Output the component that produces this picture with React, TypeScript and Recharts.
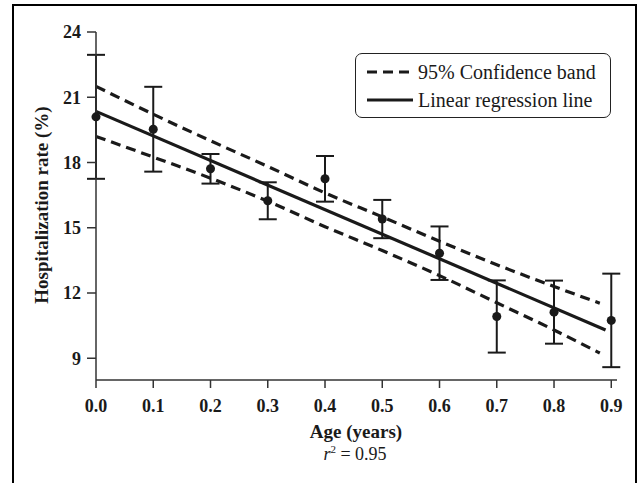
import React from 'react';
import { ComposedChart, Line, Scatter, ErrorBar, XAxis, YAxis } from 'recharts';

const ages = [0, 0.1, 0.2, 0.3, 0.4, 0.5, 0.6, 0.7, 0.8, 0.9];
const rates = [20.1, 19.53, 17.71, 16.24, 17.25, 15.4, 13.83, 10.92, 11.12, 10.74];
const sd = [2.85, 1.95, 0.68, 0.85, 1.05, 0.88, 1.23, 1.66, 1.45, 2.15];

const bandX = [0, 0.1, 0.2, 0.3, 0.4, 0.5, 0.6, 0.7, 0.8, 0.88];
const upperBand = [21.5, 20.22, 19.0, 17.82, 16.6, 15.5, 14.38, 13.3, 12.3, 11.53];
const lowerBand = [19.2, 18.25, 17.28, 16.22, 15.05, 13.95, 12.8, 11.55, 10.3, 9.24];

const regX = [0, 0.89];
const regY = [20.35, 10.3];

const xTicks = [0, 0.1, 0.2, 0.3, 0.4, 0.5, 0.6, 0.7, 0.8, 0.9];
const yTicks = [9, 12, 15, 18, 21, 24];

const points = ages.map((x, i) => ({ x, y: rates[i], err: sd[i] }));
const upperData = bandX.map((x, i) => ({ x, y: upperBand[i] }));
const lowerData = bandX.map((x, i) => ({ x, y: lowerBand[i] }));
const regData = regX.map((x, i) => ({ x, y: regY[i] }));

const serif = '"Liberation Serif", "Times New Roman", serif';
const ink = '#1a1a1a';
const axisInk = '#333';

const tickStyle = { fontSize: 18, fontWeight: 700, fill: ink, fontFamily: serif };

const App = () => {
  return (
    <div
      style={{
        position: 'absolute',
        left: 0,
        top: 0,
        width: 641,
        height: 483,
        overflow: 'hidden',
        background: '#fff',
        fontFamily: serif,
        color: ink,
      }}
    >
      {/* outer frame, bottom edge runs off the picture */}
      <div
        style={{
          position: 'absolute',
          left: 12,
          top: 4,
          width: 621,
          height: 560,
          border: '2px solid #000',
        }}
      />

      <div style={{ position: 'absolute', left: 0, top: 0 }}>
        <ComposedChart width={641} height={483} margin={{ top: 32, right: 24, left: 36, bottom: 53 }}>
          <XAxis
            type="number"
            dataKey="x"
            domain={[0, 0.91]}
            ticks={xTicks}
            tickFormatter={(v: number) => v.toFixed(1)}
            tick={tickStyle}
            tickSize={8}
            tickMargin={11}
            height={50}
            stroke={axisInk}
            strokeWidth={1.5}
          />
          <YAxis
            type="number"
            dataKey="y"
            domain={[8, 24]}
            ticks={yTicks}
            tick={tickStyle}
            tickSize={9}
            tickMargin={6}
            width={60}
            stroke={axisInk}
            strokeWidth={1.5}
          />
          <Scatter data={points} dataKey="y" fill={ink} isAnimationActive={false}>
            <ErrorBar dataKey="err" direction="y" width={9} strokeWidth={2} stroke={ink} isAnimationActive={false} />
          </Scatter>
          <Line
            data={upperData}
            dataKey="y"
            type="monotone"
            stroke={ink}
            strokeWidth={3.2}
            strokeDasharray="10 6"
            dot={false}
            isAnimationActive={false}
          />
          <Line
            data={lowerData}
            dataKey="y"
            type="monotone"
            stroke={ink}
            strokeWidth={3.2}
            strokeDasharray="10 6"
            dot={false}
            isAnimationActive={false}
          />
          <Line
            data={regData}
            dataKey="y"
            type="linear"
            stroke={ink}
            strokeWidth={3.2}
            dot={false}
            isAnimationActive={false}
          />
        </ComposedChart>
      </div>

      {/* y axis title */}
      <div
        style={{
          position: 'absolute',
          left: 42,
          top: 205,
          transform: 'translate(-50%, -50%) rotate(-90deg)',
          whiteSpace: 'nowrap',
          fontSize: 19,
          fontWeight: 700,
        }}
      >
        Hospitalization rate (%)
      </div>

      {/* x axis title and r² note */}
      <div
        style={{
          position: 'absolute',
          left: 356,
          top: 432,
          transform: 'translate(-50%, -50%)',
          whiteSpace: 'nowrap',
          fontSize: 19,
          fontWeight: 700,
        }}
      >
        Age (years)
      </div>
      <div
        style={{
          position: 'absolute',
          left: 355,
          top: 454,
          transform: 'translate(-50%, -50%)',
          whiteSpace: 'nowrap',
          fontSize: 18,
        }}
      >
        <i>r</i>
        <sup style={{ fontSize: 11 }}>2</sup> = 0.95
      </div>

      {/* legend */}
      <div
        style={{
          position: 'absolute',
          left: 355,
          top: 53,
          width: 254,
          height: 63,
          border: '1.5px solid #222',
          borderRadius: 7,
          boxSizing: 'content-box',
        }}
      >
        {[
          { label: '95% Confidence band', dash: '10 6', top: 4 },
          { label: 'Linear regression line', dash: undefined, top: 32 },
        ].map((row) => (
          <div
            key={row.label}
            style={{
              position: 'absolute',
              left: 11,
              top: row.top,
              height: 28,
              display: 'flex',
              alignItems: 'center',
              whiteSpace: 'nowrap',
              fontSize: 20,
            }}
          >
            <svg width={46} height={10} style={{ marginRight: 5 }}>
              <line x1={0} y1={5} x2={46} y2={5} stroke={ink} strokeWidth={3.2} strokeDasharray={row.dash} />
            </svg>
            <span>{row.label}</span>
          </div>
        ))}
      </div>
    </div>
  );
};

export default App;
